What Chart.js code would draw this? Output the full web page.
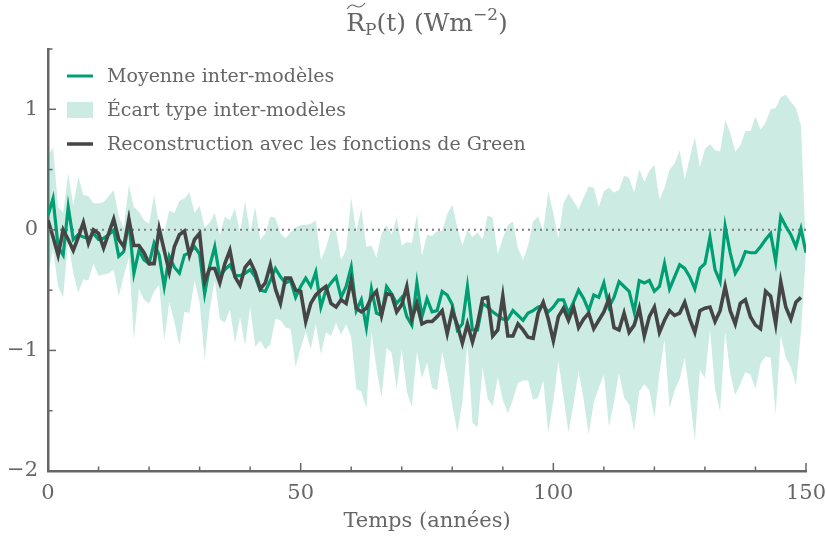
<!DOCTYPE html>
<html>
<head>
<meta charset="utf-8">
<script src="https://cdn.jsdelivr.net/npm/chart.js@4/dist/chart.umd.min.js"></script>
<style>
  body { margin: 0; background: #fff; }
  #wrap { width: 826px; height: 536px; }
</style>
</head>
<body>
<div id="wrap"><canvas id="myChart" width="826" height="536"></canvas></div>
<script>
// years 0..150
const years = Array.from({ length: 151 }, (_, i) => i)

// inter-model mean
const meanValues = [
  0.12, 0.26, -0.14, -0.21, 0.19, -0.08, -0.04, -0.06, -0.07, -0.03,
  -0.08, -0.07, -0.04, 0.0, -0.22, -0.18, 0.07, -0.36, -0.17, -0.25,
  -0.28, -0.11, -0.21, -0.47, -0.22, -0.31, -0.36, -0.21, -0.19, -0.14,
  -0.2, -0.53, -0.3, -0.14, -0.39, -0.33, -0.29, -0.38, -0.38, -0.36,
  -0.33, -0.39, -0.5, -0.51, -0.42, -0.32, -0.39, -0.44, -0.42, -0.56,
  -0.47, -0.40, -0.47, -0.35, -0.64, -0.5, -0.44, -0.39, -0.56, -0.47,
  -0.31, -0.67, -0.58, -0.81, -0.49, -0.69, -0.71, -0.47, -0.53, -0.61,
  -0.56, -0.72, -0.79, -0.44, -0.72, -0.57, -0.68, -0.67, -0.51, -0.54,
  -0.62, -0.83, -0.78, -0.47, -0.83, -0.83, -0.61, -0.64, -0.68, -0.71,
  -0.74, -0.74, -0.67, -0.71, -0.75, -0.69, -0.67, -0.64, -0.63, -0.68,
  -0.64, -0.58, -0.58, -0.69, -0.6, -0.5, -0.57, -0.67, -0.54, -0.56,
  -0.44, -0.64, -0.56, -0.43, -0.47, -0.51, -0.68, -0.42, -0.44, -0.42,
  -0.51, -0.47, -0.28, -0.49, -0.39, -0.29, -0.32, -0.39, -0.49, -0.32,
  -0.28, -0.06, -0.33, -0.43, 0.03, -0.19, -0.36, -0.29, -0.18, -0.19,
  -0.19, -0.14, -0.08, -0.03, -0.26, 0.11, 0.03, -0.04, -0.14, 0.01,
  -0.19
]

// inter-model standard deviation
const stdValues = [
  0.5, 0.42, 0.33, 0.35, 0.28, 0.28, 0.48, 0.35, 0.35, 0.25,
  0.3, 0.3, 0.32, 0.33, 0.33, 0.2, 0.3, 0.55, 0.32, 0.33,
  0.33, 0.4, 0.25, 0.45, 0.38, 0.45, 0.6, 0.47, 0.5, 0.28,
  0.4, 0.55, 0.36, 0.28, 0.35, 0.44, 0.37, 0.56, 0.35, 0.6,
  0.31, 0.58, 0.42, 0.48, 0.53, 0.42, 0.36, 0.37, 0.4, 0.58,
  0.51, 0.44, 0.52, 0.43, 0.39, 0.35, 0.44, 0.38, 0.31, 0.31,
  0.58, 0.65, 0.76, 0.67, 0.36, 0.46, 0.68, 0.51, 0.49, 0.71,
  0.43, 0.62, 0.68, 0.57, 0.51, 0.53, 0.63, 0.66, 0.5, 0.67,
  0.83, 0.85, 0.65, 0.47, 0.77, 0.81, 0.53, 0.76, 0.78, 0.51,
  0.67, 0.78, 0.74, 0.56, 0.5, 0.56, 0.74, 0.75, 0.62, 1.0,
  0.78, 0.51, 0.8, 0.99, 0.84, 0.67, 0.84, 1.03, 0.89, 0.75,
  0.76, 0.99, 0.87, 0.76, 0.92, 0.94, 0.99, 0.92, 0.84, 0.91,
  1.05, 0.72, 0.63, 0.99, 0.94, 0.95, 0.74, 0.99, 1.26, 0.84,
  0.95, 0.77, 0.99, 1.08, 0.88, 1.0, 1.01, 0.99, 1.0, 1.01,
  1.13, 0.97, 0.97, 1.03, 1.27, 0.99, 1.09, 1.1, 1.15, 0.86,
  0
]

// reconstruction with Green's functions (stops at year 149)
const greenValues = [
  0.08, -0.06, -0.21, 0.0, -0.08, -0.17, -0.06, 0.06, -0.11, 0.0,
  -0.03, -0.15, -0.03, 0.09, -0.08, -0.14, 0.09, -0.13, -0.13, -0.19,
  -0.28, -0.28, 0.01, -0.17, -0.35, -0.14, -0.04, -0.01, -0.21, -0.08,
  -0.03, -0.43, -0.32, -0.32, -0.44, -0.28, -0.17, -0.39, -0.46, -0.31,
  -0.26, -0.35, -0.49, -0.44, -0.29, -0.49, -0.61, -0.40, -0.40, -0.5,
  -0.51, -0.76, -0.61, -0.54, -0.5, -0.47, -0.61, -0.64, -0.58, -0.61,
  -0.42, -0.65, -0.68, -0.65, -0.56, -0.51, -0.71, -0.53, -0.54, -0.68,
  -0.62, -0.47, -0.74, -0.61, -0.78, -0.76, -0.76, -0.72, -0.67, -0.86,
  -0.67, -0.79, -0.94, -0.78, -0.93, -0.78, -0.57, -0.56, -0.88, -0.83,
  -0.55, -0.88, -0.88, -0.78, -0.83, -0.89, -0.9, -0.69, -0.6, -0.74,
  -0.92, -0.72, -0.65, -0.75, -0.64, -0.81, -0.74, -0.69, -0.82, -0.75,
  -0.68, -0.57, -0.81, -0.83, -0.69, -0.85, -0.79, -0.65, -0.88, -0.72,
  -0.64, -0.85, -0.75, -0.67, -0.71, -0.69, -0.6, -0.74, -0.85, -0.67,
  -0.65, -0.64, -0.76, -0.67, -0.47, -0.67, -0.78, -0.61, -0.58, -0.72,
  -0.79, -0.82, -0.51, -0.55, -0.78, -0.43, -0.64, -0.74, -0.6, -0.56
]

const xTicks = [0, 50, 100, 150]
const yTicks = [-2, -1, 0, 1]
const refLevel = 0

const textColor = '#666666'
const meanColor = '#009e73'
const bandColor = 'rgba(0, 158, 115, 0.2)'
const reconColor = '#454545'
const font = '"DejaVu Serif", serif'

function pts(values){
    return values.map((v, i) => ({ x: years[i], y: v }))
}

const upper = meanValues.map((m, i) => m + stdValues[i])
const lower = meanValues.map((m, i) => m - stdValues[i])

// ticks drawn inward, like the matplotlib original
const innerTicks = {
    id: 'innerTicks',
    afterDraw(chart){
        const ctx = chart.ctx
        const xs = chart.scales.x
        const ys = chart.scales.y
        const area = chart.chartArea
        ctx.save()
        ctx.strokeStyle = textColor
        ctx.lineWidth = 1.5
        xs.ticks.forEach((t) => {
            const px = xs.getPixelForValue(t.value)
            const len = xTicks.includes(t.value) ? 8 : 4.5
            ctx.beginPath()
            ctx.moveTo(px, area.bottom)
            ctx.lineTo(px, area.bottom - len)
            ctx.stroke()
        })
        ys.ticks.forEach((t) => {
            const py = ys.getPixelForValue(t.value)
            const len = yTicks.includes(t.value) ? 8 : 4.5
            ctx.beginPath()
            ctx.moveTo(area.left, py)
            ctx.lineTo(area.left + len, py)
            ctx.stroke()
        })
        ctx.restore()
    }
}

// legend inside the plot, top left
const insideLegend = {
    id: 'insideLegend',
    afterDraw(chart){
        const ctx = chart.ctx
        const ds = chart.data.datasets
        const rows = [
            { label: ds[3].label, kind: 'line', color: meanColor, width: 3 },
            { label: ds[1].label, kind: 'patch', color: bandColor },
            { label: ds[4].label, kind: 'line', color: reconColor, width: 3.5 }
        ]
        ctx.save()
        ctx.font = '19px ' + font
        ctx.textBaseline = 'middle'
        rows.forEach((r, i) => {
            const y = 76 + i * 34
            if (r.kind === 'line') {
                ctx.strokeStyle = r.color
                ctx.lineWidth = r.width
                ctx.beginPath()
                ctx.moveTo(67, y)
                ctx.lineTo(93, y)
                ctx.stroke()
            } else {
                ctx.fillStyle = r.color
                ctx.fillRect(67, y - 8, 26, 16)
            }
            ctx.fillStyle = textColor
            ctx.fillText(r.label, 107, y + 1)
        })
        ctx.restore()
    }
}

// title with tilde, subscript and superscript
const mathTitle = {
    id: 'mathTitle',
    afterDraw(chart){
        const ctx = chart.ctx
        const area = chart.chartArea
        const big = '25px ' + font
        const small = '17px ' + font
        const base = 31
        const parts = [
            { t: 'R', f: big, dy: 0 },
            { t: 'P', f: small, dy: 4 },
            { t: '(t) (Wm', f: big, dy: 0 },
            { t: '\u22122', f: small, dy: -11 },
            { t: ')', f: big, dy: 0 }
        ]
        ctx.save()
        let total = 0
        parts.forEach((p) => { ctx.font = p.f; p.w = ctx.measureText(p.t).width; total += p.w })
        let x = (area.left + area.right) / 2 - total / 2
        ctx.fillStyle = textColor
        ctx.textBaseline = 'alphabetic'
        parts.forEach((p, i) => {
            ctx.font = p.f
            ctx.fillText(p.t, x, base + p.dy)
            if (i === 0) {
                // tilde over R
                const w = p.w
                ctx.strokeStyle = textColor
                ctx.lineWidth = 1.2
                ctx.beginPath()
                ctx.moveTo(x + 1, 9)
                ctx.quadraticCurveTo(x + w * 0.25, 3, x + w * 0.5, 6)
                ctx.quadraticCurveTo(x + w * 0.75, 9, x + w, 3)
                ctx.stroke()
            }
            x += p.w
        })
        ctx.restore()
    }
}

function mainEvent(){
    const config = {
        type: 'line',
        data: {
            datasets: [
                {
                    label: 'lower',
                    data: pts(lower),
                    borderWidth: 0,
                    pointRadius: 0,
                    fill: false,
                    order: 3
                },
                {
                    label: '\u00c9cart type inter-mod\u00e8les',
                    data: pts(upper),
                    borderWidth: 0,
                    pointRadius: 0,
                    backgroundColor: bandColor,
                    fill: '-1',
                    order: 3
                },
                {
                    label: 'zero',
                    data: [{ x: years[0], y: refLevel }, { x: years[years.length - 1], y: refLevel }],
                    borderColor: '#7f7f7f',
                    borderWidth: 2,
                    borderDash: [2, 4],
                    pointRadius: 0,
                    fill: false,
                    order: 2
                },
                {
                    label: 'Moyenne inter-mod\u00e8les',
                    data: pts(meanValues),
                    borderColor: meanColor,
                    borderWidth: 3.2,
                    pointRadius: 0,
                    fill: false,
                    order: 1
                },
                {
                    label: 'Reconstruction avec les fonctions de Green',
                    data: pts(greenValues),
                    borderColor: reconColor,
                    borderWidth: 3.6,
                    pointRadius: 0,
                    fill: false,
                    order: 0
                }
            ]
        },
        options: {
            responsive: false,
            animation: false,
            layout: { padding: { top: 49, right: 20, left: 0, bottom: 0 } },
            plugins: {
                legend: { display: false },
                tooltip: { enabled: false },
                title: { display: false }
            },
            scales: {
                x: {
                    type: 'linear',
                    min: 0,
                    max: 150,
                    afterFit: (s) => { s.height = 65; s.paddingLeft = 0; s.paddingRight = 0 },
                    grid: { display: false, drawTicks: false },
                    border: { display: true, color: textColor, width: 2.5 },
                    ticks: {
                        stepSize: 10,
                        autoSkip: false,
                        maxRotation: 0,
                        padding: 10,
                        color: textColor,
                        font: { family: font, size: 21 },
                        callback: (v) => xTicks.includes(v) ? String(v) : ''
                    },
                    title: {
                        display: true,
                        text: 'Temps (ann\u00e9es)',
                        color: textColor,
                        font: { family: font, size: 21 },
                        padding: { top: 0, bottom: 2 }
                    }
                },
                y: {
                    min: -2,
                    max: 1.5,
                    afterFit: (s) => { s.width = 48; s.paddingTop = 0; s.paddingBottom = 0 },
                    grid: { display: false, drawTicks: false },
                    border: { display: true, color: textColor, width: 2.5 },
                    ticks: {
                        stepSize: 0.5,
                        autoSkip: false,
                        padding: 10,
                        color: textColor,
                        font: { family: font, size: 21 },
                        callback: (v) => yTicks.includes(v) ? (v < 0 ? '\u2212' + Math.abs(v) : String(v)) : ''
                    }
                }
            }
        },
        plugins: [innerTicks, insideLegend, mathTitle]
    }
    return new Chart(document.getElementById('myChart'), config)
}

document.addEventListener('DOMContentLoaded', () => mainEvent())
</script>
</body>
</html>
